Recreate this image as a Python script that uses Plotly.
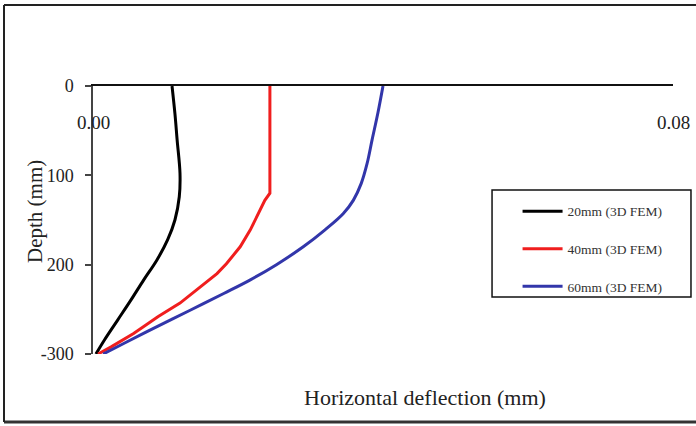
import plotly.graph_objects as go

# Data (depth in mm, horizontal deflection in mm)
depth_20 = [0, 31, 60, 98, 124, 150, 172, 195, 217, 240, 262, 284, 300]
defl_20 = [0.0109, 0.0113, 0.0116, 0.0120, 0.0119, 0.0113, 0.0103, 0.0088, 0.0070,
           0.0052, 0.0034, 0.0016, 0.0004]

depth_40 = [0, 60, 120, 128, 143, 161, 180, 199, 210, 225, 243, 258, 277, 292, 300]
defl_40 = [0.0244, 0.0244, 0.0244, 0.0237, 0.0228, 0.0217, 0.0203, 0.0184, 0.0171,
           0.0148, 0.0120, 0.0090, 0.0056, 0.0025, 0.0007]

depth_60 = [0, 30, 60, 87, 109, 128, 143, 161, 180, 200, 217, 232, 251, 269, 288, 300]
defl_60 = [0.0400, 0.0393, 0.0385, 0.0378, 0.0370, 0.0359, 0.0345, 0.0320, 0.0290,
           0.0253, 0.0217, 0.0181, 0.0134, 0.0089, 0.0043, 0.0014]

series_names = ["20mm (3D FEM)", "40mm (3D FEM)", "60mm (3D FEM)"]
series_colors = ["#000000", "#f01e1e", "#3236aa"]

y_tickvals = [0, -100, -200, -300]
y_ticktext = ["0", "100", "200", "-300"]
x_tickvals = [0, 0.08]
x_ticktext = ["0.00", "0.08"]

SERIF = "Liberation Serif"

fig = go.Figure()
for i, (d, v) in enumerate([(depth_20, defl_20), (depth_40, defl_40), (depth_60, defl_60)]):
    fig.add_trace(go.Scatter(
        x=v, y=[-z for z in d], mode="lines", name=series_names[i],
        legendgroup=f"g{i}",
        line=dict(color=series_colors[i], width=3,
                  shape="spline" if i != 1 else "linear", smoothing=1.0),
    ))

fig.update_layout(
    width=696, height=426,
    margin=dict(l=93, r=23, t=86, b=72),
    paper_bgcolor="white", plot_bgcolor="white",
    showlegend=True,
    legend=dict(x=0.732, y=0.59, xanchor="left", yanchor="top",
                bgcolor="rgba(0,0,0,0)", borderwidth=0,
                font=dict(family=SERIF, size=13.5, color="#333333"),
                tracegroupgap=17, itemwidth=40),
    xaxis=dict(range=[0, 0.08], side="top", showgrid=False, zeroline=False,
               showline=True, linecolor="#111111", linewidth=2,
               ticks="inside", ticklen=5, tickcolor="#111111", tickwidth=2,
               tickvals=x_tickvals, showticklabels=False),
    yaxis=dict(range=[-300, 0], showgrid=False, zeroline=False,
               showline=True, linecolor="#444444", linewidth=1.5,
               ticks="outside", ticklen=6, tickcolor="#444444", tickwidth=1.5,
               tickvals=y_tickvals, ticktext=y_ticktext,
               tickfont=dict(family=SERIF, size=18, color="#222222"),
               ticklabelstandoff=8),
)

# x tick labels (drawn below the top axis line)
for xv, xt in zip(x_tickvals, x_ticktext):
    fig.add_annotation(x=xv, y=(354 - 122) / 268, xref="x", yref="paper", text=xt,
                       showarrow=False, xanchor="center", yanchor="middle",
                       font=dict(family=SERIF, size=19, color="#222222"))

# axis titles
fig.add_annotation(x=(35 - 93) / 580, y=(354 - 212) / 268, xref="paper", yref="paper",
                   text="Depth (mm)", textangle=-90, showarrow=False,
                   xanchor="center", yanchor="middle",
                   font=dict(family=SERIF, size=21, color="#222222"))
fig.add_annotation(x=(425 - 93) / 580, y=(354 - 397) / 268, xref="paper", yref="paper",
                   text="Horizontal deflection (mm)", showarrow=False,
                   xanchor="center", yanchor="middle",
                   font=dict(family=SERIF, size=22, color="#222222"))

# legend box
fig.add_shape(type="rect", xref="paper", yref="paper", x0=0.688, x1=1.031, y0=0.2127, y1=0.612,
              line=dict(color="#111111", width=1.5))

# outer frame
fx0, fx1, fy0, fy1 = (4 - 93) / 580, (696 - 93) / 580, (354 - 422) / 268, (354 - 5) / 268
fig.add_shape(type="line", xref="paper", yref="paper", x0=fx0, x1=fx1, y0=fy1, y1=fy1,
              line=dict(color="#222222", width=2))
fig.add_shape(type="line", xref="paper", yref="paper", x0=fx0, x1=fx1, y0=fy0, y1=fy0,
              line=dict(color="#333333", width=3))
fig.add_shape(type="line", xref="paper", yref="paper", x0=fx0, x1=fx0, y0=fy0, y1=fy1,
              line=dict(color="#222222", width=2))

fig.write_html("out.html")
